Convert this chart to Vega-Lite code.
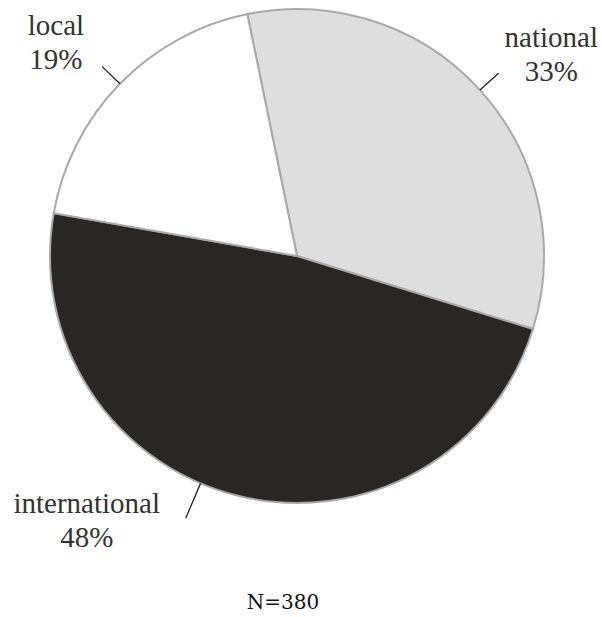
{
  "$schema": "https://vega.github.io/schema/vega-lite/v6.json",
  "width": 594,
  "height": 512,
  "padding": 0,
  "background": "white",
  "config": {"view": {"stroke": null}},
  "title": {
    "text": "N=380",
    "orient": "bottom",
    "anchor": "middle",
    "dx": -14,
    "offset": 40,
    "font": "DejaVu Serif",
    "fontSize": 20,
    "fontWeight": "normal",
    "color": "#111111"
  },
  "data": {
    "values": [
      {"category": "national", "share": 33, "rank": 1, "label": ["national", "33%"]},
      {"category": "international", "share": 48, "rank": 2, "label": ["international", "48%"]},
      {"category": "local", "share": 19, "rank": 3, "label": ["local", "19%"]}
    ]
  },
  "encoding": {
    "theta": {
      "field": "share",
      "type": "quantitative",
      "stack": true,
      "scale": {"type": "linear", "domain": [0, 100], "range": [-0.2025, 6.0807]}
    },
    "order": {"field": "rank", "type": "ordinal"}
  },
  "layer": [
    {
      "mark": {"type": "arc", "radius": 247, "stroke": "#a9a9a9", "strokeWidth": 2},
      "encoding": {
        "color": {
          "field": "category",
          "type": "nominal",
          "scale": {"domain": ["national", "international", "local"], "range": ["#dfdede", "#2a2626", "#ffffff"]},
          "legend": null
        }
      }
    },
    {
      "mark": {"type": "arc", "radius": 272, "radius2": 247, "padAngle": 3, "fill": null, "stroke": "#222222", "strokeWidth": 1.3},
      "encoding": {
        "strokeOpacity": {"condition": {"test": "datum.category === 'international'", "value": 0}, "value": 1}
      }
    },
    {
      "mark": {"type": "arc", "radius": 285, "radius2": 247, "padAngle": 3, "fill": null, "stroke": "#222222", "strokeWidth": 1.3, "thetaOffset": 0.164, "theta2Offset": 0.164},
      "encoding": {
        "strokeOpacity": {"condition": {"test": "datum.category === 'international'", "value": 1}, "value": 0}
      }
    },
    {
      "mark": {"type": "text", "radius": 300, "dx": 32, "dy": -16, "font": "Liberation Serif", "fontSize": 29, "lineHeight": 34, "align": "center", "baseline": "middle", "color": "#333333"},
      "encoding": {
        "text": {"condition": {"test": "datum.category === 'national'", "field": "label"}, "value": ""}
      }
    },
    {
      "mark": {"type": "text", "radius": 150, "dx": -175, "dy": 102, "font": "Liberation Serif", "fontSize": 29, "lineHeight": 34, "align": "center", "baseline": "middle", "color": "#333333"},
      "encoding": {
        "text": {"condition": {"test": "datum.category === 'international'", "field": "label"}, "value": ""}
      }
    },
    {
      "mark": {"type": "text", "radius": 300, "dx": -26, "dy": -21, "font": "Liberation Serif", "fontSize": 29, "lineHeight": 34, "align": "center", "baseline": "middle", "color": "#333333"},
      "encoding": {
        "text": {"condition": {"test": "datum.category === 'local'", "field": "label"}, "value": ""}
      }
    }
  ]
}
